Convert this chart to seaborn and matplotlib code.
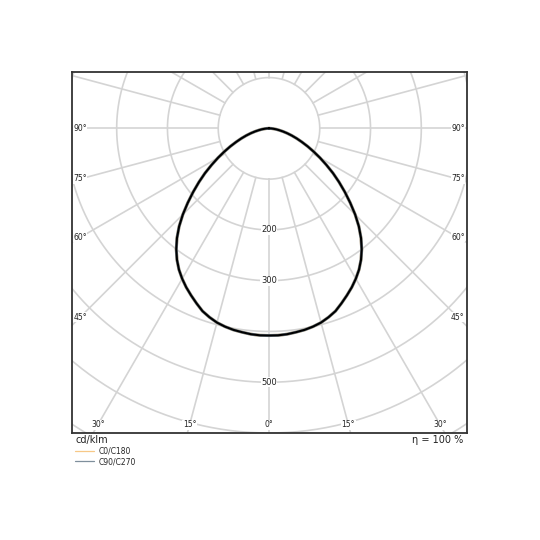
import numpy as np
import pandas as pd
import matplotlib.pyplot as plt
import seaborn as sns

# luminous intensity (cd/klm) vs gamma angle
gamma = [0, 2.5, 5, 7.5, 10, 12.5, 15, 17.5, 20, 22.5, 25, 27.5, 30, 32.5, 35, 37.5,
         40, 42.5, 45, 47.5, 50, 52.5, 55, 57.5, 60, 62.5, 65, 67.5, 70, 72.5, 75,
         77.5, 80, 82.5, 85, 87.5, 90]
intensity = [408, 408, 407, 405, 403, 400, 396, 390, 383, 373, 363, 353, 342, 330,
             316, 300, 282, 262, 240, 217, 195, 174, 154, 134, 116, 99, 84, 70, 58,
             47, 37, 28, 20, 14, 8, 4, 0]
planes = ['C0/C180', 'C90/C270']

ring_values   = [100, 200, 300, 400, 500, 600, 700, 800, 900]
ring_labels   = [200, 300, 500]
side_angles   = [45, 60, 75, 90]
bottom_angles = [0, 15, 30]

# mirror each plane over the nadir: left half = C180/C270, right half = C0/C90
g_full = [-g for g in gamma[::-1][:-1]] + gamma
i_full = intensity[::-1][:-1] + intensity
rows = []
for p in planes:
    for order, (g, v) in enumerate(zip(g_full, i_full)):
        rad = np.radians(g)
        rows.append({'plane': p, 'order': order,
                     'x': v * np.sin(rad), 'y': v * np.cos(rad)})
df = pd.DataFrame(rows)

sns.set_style('white')
fig = plt.figure(figsize=(5.4, 5.4), dpi=100)
ax = fig.add_axes([72 / 540, 1 - 433 / 540, 395 / 540, 361 / 540])

grid_kw = dict(color='#d4d4d4', lw=1.2, zorder=1)
t = np.linspace(0, 2 * np.pi, 400)
for r in ring_values:
    ax.plot(r * np.sin(t), r * np.cos(t), **grid_kw)
for a in range(0, 360, 15):
    rad = np.radians(a)
    ax.plot([100 * np.sin(rad), 1200 * np.sin(rad)],
            [100 * np.cos(rad), 1200 * np.cos(rad)], **grid_kw)

sns.lineplot(data=df, x='x', y='y', hue='plane', units='plane', estimator=None,
             sort=False, palette={'C0/C180': '#f7c887', 'C90/C270': '#7f8f9c'},
             lw=2.2, ax=ax, zorder=3)
c0 = df[df['plane'] == 'C0/C180']
ax.plot(c0['x'], c0['y'], color='black', lw=1.5, zorder=4, solid_joinstyle='round')
for line in ax.get_legend().get_lines():
    line.set_linewidth(0.9)

lab_kw = dict(ha='center', va='center', color='#222222', zorder=5,
              bbox=dict(fc='white', ec='none', pad=0.4))
for r in ring_labels:
    ax.text(0, r, str(r), fontsize=6, **lab_kw)
for a in side_angles:
    xs = 372
    ys = 0 if a == 90 else xs / np.tan(np.radians(a))
    ax.text(-xs, ys, f'{a}°', fontsize=5.5, **lab_kw)
    ax.text(xs, ys, f'{a}°', fontsize=5.5, **lab_kw)
for a in bottom_angles:
    yb = 584
    xb = yb * np.tan(np.radians(a))
    ax.text(xb, yb, f'{a}°', fontsize=5.5, **lab_kw)
    if a:
        ax.text(-xb, yb, f'{a}°', fontsize=5.5, **lab_kw)

ax.set_xlim(-388, 390)
ax.set_ylim(600, -111)
ax.set_xticks([])
ax.set_yticks([])
ax.set_xlabel('')
ax.set_ylabel('')
for s in ax.spines.values():
    s.set_color('#333333')
    s.set_linewidth(1.3)

fig.text(76 / 540, 1 - 440 / 540, 'cd/klm', fontsize=7, va='center', color='#222222')
fig.text(463 / 540, 1 - 440 / 540, 'η = 100 %', fontsize=7, va='center', ha='right',
         color='#222222')

sns.move_legend(ax, 'upper left', bbox_to_anchor=(75 / 540, 1 - 447 / 540),
                bbox_transform=fig.transFigure, frameon=False, title=None,
                fontsize=5.5, handlelength=2.5, handletextpad=0.6,
                labelspacing=0.15, borderpad=0, borderaxespad=0)

plt.savefig('out.png', dpi=100)
